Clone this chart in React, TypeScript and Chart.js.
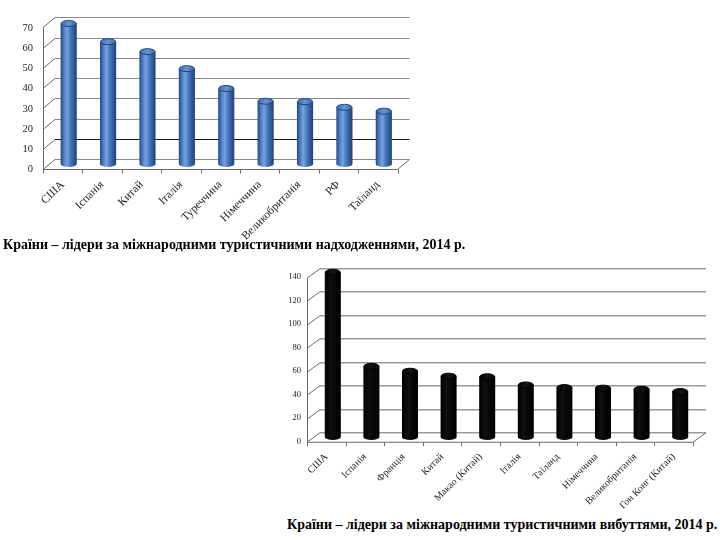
import React, { useEffect, useRef } from "react";
import { Chart, registerables } from "chart.js";

Chart.register(...registerables);

// ---- Data ----
const receiptCountries = ["США", "Іспанія", "Китай", "Італія", "Туреччина", "Німеччина", "Великобританія", "РФ", "Таїланд"];
const receiptValues = [69.4, 60.4, 55.5, 47.1, 37.3, 31, 30.8, 28, 26.1];
const receiptMax = 70;
const receiptStep = 10;

const departureCountries = ["США", "Іспанія", "Франція", "Китай", "Макао (Китай)", "Італія", "Таїланд", "Німеччина", "Великобританія", "Гон Конг (Китай)"];
const departureValues = [140.2, 60.2, 56, 51.8, 51.3, 44.3, 42.1, 41.6, 40.7, 38.7];
const departureMax = 140;
const departureStep = 20;

const captionReceipts = "Країни – лідери за міжнародними туристичними надходженнями, 2014 р.";
const captionDepartures = "Країни – лідери за міжнародними туристичними вибуттями, 2014 р.";

const SERIF = "'Liberation Serif', 'Times New Roman', serif";

// ---- Plugins ----
const frame3d = {
  id: "frame3d",
  beforeDatasetsDraw(chart: any, _args: any, opts: any) {
    const { ctx, chartArea: a, scales } = chart;
    const y = scales.y;
    const hx = opts.dx / 2;
    const hy = opts.dy / 2;
    const n = chart.data.labels.length;
    const line = (x1: number, y1: number, x2: number, y2: number) => {
      ctx.beginPath();
      ctx.moveTo(x1, y1);
      ctx.lineTo(x2, y2);
      ctx.stroke();
    };
    ctx.save();
    y.ticks.forEach((t: any) => {
      const py = Math.round(y.getPixelForValue(t.value)) + 0.5;
      ctx.lineWidth = opts.gridWidth;
      ctx.strokeStyle = (opts.darkValues || []).includes(t.value) ? "#111" : opts.gridColor;
      line(a.left + hx, py - hy, a.right + hx, py - hy);
      ctx.lineWidth = 1;
      ctx.strokeStyle = opts.axisColor;
      line(a.left - hx, py + hy, a.left + hx, py - hy);
    });
    ctx.lineWidth = 1;
    ctx.strokeStyle = opts.axisColor;
    const y0 = Math.round(y.getPixelForValue(y.min)) + 0.5;
    const yTop = Math.round(y.getPixelForValue(y.max)) + 0.5;
    const fx = Math.round(a.left - hx) + 0.5;
    line(fx, y0 + hy, fx, yTop + hy);
    line(fx, y0 + hy, a.right - hx, y0 + hy);
    line(a.right - hx, y0 + hy, a.right + hx, y0 - hy);
    for (let i = 0; i <= n; i++) {
      const px = Math.round(a.left - hx + (i * a.width) / n) + 0.5;
      line(px, y0 + hy, px, y0 + hy + 4);
    }
    ctx.restore();
  },
};

const barCaps = {
  id: "barCaps",
  afterDatasetsDraw(chart: any, _args: any, opts: any) {
    const { ctx } = chart;
    const meta = chart.getDatasetMeta(0);
    ctx.save();
    meta.data.forEach((el: any) => {
      const { x, y, base, width } = el.getProps(["x", "y", "base", "width"], true);
      const rx = width / 2;
      const ry = opts.ry;
      const gb = ctx.createLinearGradient(x - rx, 0, x + rx, 0);
      opts.bodyStops.forEach((s: any) => gb.addColorStop(s[0], s[1]));
      ctx.fillStyle = gb;
      ctx.beginPath();
      ctx.ellipse(x, base, rx, ry, 0, 0, Math.PI);
      ctx.fill();
      const gt = ctx.createLinearGradient(x - rx, 0, x + rx, 0);
      opts.capStops.forEach((s: any) => gt.addColorStop(s[0], s[1]));
      ctx.fillStyle = gt;
      ctx.strokeStyle = opts.capStroke;
      ctx.lineWidth = 1;
      ctx.beginPath();
      ctx.ellipse(x, y, rx - 0.5, ry, 0, 0, Math.PI * 2);
      ctx.fill();
      ctx.stroke();
    });
    ctx.restore();
  },
};

type Cfg = {
  labels: string[];
  values: number[];
  max: number;
  step: number;
  width: number;
  height: number;
  yWidth: number;
  xHeight: number;
  padTop: number;
  padRight: number;
  dx: number;
  dy: number;
  barPct: number;
  bodyStops: [number, string][];
  capStops: [number, string][];
  capStroke: string;
  gridColor: string;
  gridWidth: number;
  axisColor: string;
  darkValues: number[];
  yFont: number;
  xFont: number;
  yPad: number;
  yLabelOffset: number;
  xPad: number;
  xLabelOffset: number;
};

function Bar3D({ cfg, style }: { cfg: Cfg; style: React.CSSProperties }) {
  const ref = useRef<HTMLCanvasElement | null>(null);
  useEffect(() => {
    if (!ref.current) return;
    const c = cfg;
    const chart = new Chart(ref.current, {
      type: "bar",
      data: {
        labels: c.labels,
        datasets: [
          {
            data: c.values,
            categoryPercentage: 1,
            barPercentage: c.barPct,
            borderWidth: 0,
            backgroundColor: (ctx: any) => {
              const ch = ctx.chart;
              const xs = ch.scales && ch.scales.x;
              if (ctx.type !== "data" || !xs || !ch.chartArea) return c.bodyStops[2][1];
              const cx = xs.getPixelForValue(ctx.dataIndex);
              const w = (xs.width / c.labels.length) * c.barPct;
              const g = ch.ctx.createLinearGradient(cx - w / 2, 0, cx + w / 2, 0);
              c.bodyStops.forEach((s) => g.addColorStop(s[0], s[1]));
              return g;
            },
          },
        ],
      },
      options: {
        animation: false,
        responsive: false,
        maintainAspectRatio: false,
        layout: { padding: { top: c.padTop, right: c.padRight, left: 0, bottom: 0 } },
        plugins: {
          legend: { display: false },
          tooltip: { enabled: false },
          frame3d: {
            dx: c.dx,
            dy: c.dy,
            gridColor: c.gridColor,
            gridWidth: c.gridWidth,
            axisColor: c.axisColor,
            darkValues: c.darkValues,
          },
          barCaps: {
            ry: 3,
            bodyStops: c.bodyStops,
            capStops: c.capStops,
            capStroke: c.capStroke,
          },
        } as any,
        scales: {
          x: {
            grid: { display: false, drawTicks: false },
            border: { display: false },
            ticks: {
              autoSkip: false,
              minRotation: 45,
              maxRotation: 45,
              padding: c.xPad,
              labelOffset: c.xLabelOffset,
              color: "#222",
              font: { family: SERIF, size: c.xFont },
            },
            afterFit: (s: any) => {
              s.height = c.xHeight;
            },
          },
          y: {
            min: 0,
            max: c.max,
            grid: { display: false, drawTicks: false },
            border: { display: false },
            ticks: {
              stepSize: c.step,
              padding: c.yPad,
              labelOffset: c.yLabelOffset,
              color: "#222",
              font: { family: SERIF, size: c.yFont },
            },
            afterFit: (s: any) => {
              s.width = c.yWidth;
            },
          },
        },
      },
      plugins: [frame3d, barCaps],
    } as any);
    return () => chart.destroy();
  }, [cfg]);
  return <canvas ref={ref} width={cfg.width} height={cfg.height} style={{ position: "absolute", display: "block", ...style }} />;
}

const blueBody: [number, string][] = [
  [0, "#21497f"],
  [0.22, "#4f80c8"],
  [0.4, "#78a2df"],
  [0.62, "#4676bd"],
  [1, "#1c4276"],
];
const blueCap: [number, string][] = [
  [0, "#3d6cb0"],
  [0.5, "#6793d4"],
  [1, "#3a67a8"],
];
const blackBody: [number, string][] = [
  [0, "#000"],
  [0.4, "#111"],
  [0.5, "#0a0a0a"],
  [1, "#000"],
];
const blackCap: [number, string][] = [
  [0, "#000"],
  [0.5, "#151515"],
  [1, "#000"],
];

const cfgReceipts: Cfg = {
  labels: receiptCountries,
  values: receiptValues,
  max: receiptMax,
  step: receiptStep,
  width: 420,
  height: 240,
  yWidth: 49,
  xHeight: 76,
  padTop: 21,
  padRight: 16.5,
  dx: 12,
  dy: 10,
  barPct: 0.41,
  bodyStops: blueBody,
  capStops: blueCap,
  capStroke: "#1d4478",
  gridColor: "#8a8a8a",
  gridWidth: 1,
  axisColor: "#6a6a6a",
  darkValues: [10],
  yFont: 10.5,
  xFont: 11.5,
  yPad: 16,
  yLabelOffset: 5.5,
  xPad: 14,
  xLabelOffset: -6,
};

const cfgDepartures: Cfg = {
  labels: departureCountries,
  values: departureValues,
  max: departureMax,
  step: departureStep,
  width: 450,
  height: 260,
  yWidth: 43.5,
  xHeight: 78,
  padTop: 14.5,
  padRight: 20.5,
  dx: 13,
  dy: 9.5,
  barPct: 0.415,
  bodyStops: blackBody,
  capStops: blackCap,
  capStroke: "#000",
  gridColor: "#9a9a9a",
  gridWidth: 1.5,
  axisColor: "#6a6a6a",
  darkValues: [],
  yFont: 8.5,
  xFont: 10,
  yPad: 12.5,
  yLabelOffset: 4.5,
  xPad: 14,
  xLabelOffset: -6.5,
};

const captionStyle: React.CSSProperties = {
  position: "absolute",
  fontFamily: SERIF,
  fontWeight: "bold",
  fontSize: 14,
  lineHeight: "16px",
  whiteSpace: "nowrap",
  color: "#000",
};

export default function App() {
  return (
    <div style={{ position: "absolute", left: 0, top: 0, width: 720, height: 540, background: "#fff", overflow: "hidden" }}>
      <Bar3D cfg={cfgReceipts} style={{ left: 0, top: 0 }} />
      <div style={{ ...captionStyle, left: 3, top: 237 }}>{captionReceipts}</div>
      <Bar3D cfg={cfgDepartures} style={{ left: 270, top: 255 }} />
      <div style={{ ...captionStyle, left: 287, top: 517 }}>{captionDepartures}</div>
    </div>
  );
}
